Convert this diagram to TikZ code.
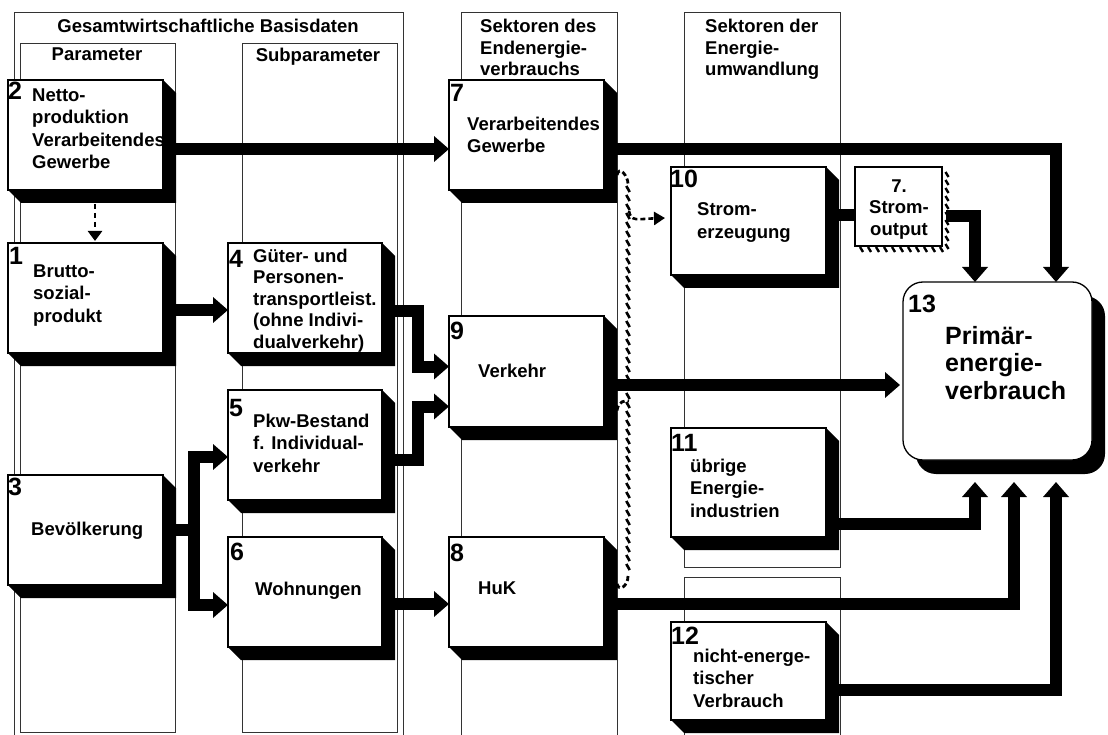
\documentclass[tikz,border=0pt]{standalone}
\usepackage{fontspec}
\setmainfont{Liberation Sans}
\usetikzlibrary{arrows.meta,shadows}
\begin{document}
\begin{tikzpicture}[x=1pt,y=-1pt,
  frame/.style={draw=black!80, line width=0.9pt},
  box/.style={draw, fill=white, line width=1.3pt, anchor=north west, inner sep=0pt, outer sep=0pt},
  txt/.style={anchor=north west, align=left, inner sep=0pt, font=\bfseries\fontsize{18.5}{22.5}\selectfont},
  hdr/.style={anchor=north, inner sep=0pt, font=\bfseries\fontsize{18.5}{21.5}\selectfont},
  num/.style={anchor=north west, inner sep=0pt, font=\bfseries\fontsize{25}{25}\selectfont},
  flow/.style={line width=12pt, line join=miter},
  flowarrow/.style={flow, -{Triangle[width=25pt,length=15pt]}},
  tick/.style={line width=2.6pt},
  hook/.style={line width=2.8pt, dash pattern=on 5pt off 3pt},
]
\newcommand\boxshadow[1]{\fill (#1.north east) -- ++(13,13) |- ([shift={(13,13)}]#1.south west) -- (#1.south west) -- (#1.south east) -- cycle;}
\useasboundingbox (0,0) rectangle (1108,735);
\fill[white] (0,0) rectangle (1108,735);

% column frames
\draw[frame] (14,745) -- (14,12) -- (403,12) -- (403,745);
\draw[frame] (20,43) rectangle (175,732);
\draw[frame] (242,43) rectangle (397,732);
\draw[frame] (461,745) -- (461,12) -- (617,12) -- (617,745);
\draw[frame] (684,12) rectangle (840,567);
\draw[frame] (684,745) -- (684,577) -- (840,577) -- (840,745);

% headers
\node[hdr] (th0) at (208,19) {Gesamtwirtschaftliche Basisdaten};
\node[hdr] (th1) at (97,48) {Parameter};
\node[hdr] (th2) at (318,48) {Subparameter};
\node[txt, font=\bfseries\fontsize{18.5}{21.5}\selectfont] (th3) at (480,19) {Sektoren des\\Endenergie-\\verbrauchs};
\node[txt, font=\bfseries\fontsize{18.5}{21.5}\selectfont] (th4) at (705,19) {Sektoren der\\Energie-\\umwandlung};

% boxes
\node[box, minimum width=155pt, minimum height=110pt] (b2) at (8,80) {};
\node[box, minimum width=155pt, minimum height=110pt] (b1) at (8,243) {};
\node[box, minimum width=155pt, minimum height=110pt] (b3) at (8,475) {};
\node[box, minimum width=154pt, minimum height=110pt] (b4) at (228,243) {};
\node[box, minimum width=154pt, minimum height=110pt] (b5) at (228,390) {};
\node[box, minimum width=154pt, minimum height=110pt] (b6) at (228,537) {};
\node[box, minimum width=155pt, minimum height=110pt] (b7) at (449,80) {};
\node[box, minimum width=155pt, minimum height=111pt] (b9) at (449,316) {};
\node[box, minimum width=155pt, minimum height=110pt] (b8) at (449,537) {};
\node[box, minimum width=155pt, minimum height=108pt] (b10) at (671,167) {};
\node[box, minimum width=155pt, minimum height=109pt] (b11) at (671,428) {};
\node[box, minimum width=155pt, minimum height=98pt] (b12) at (671,622) {};
\node[box, minimum width=87pt, minimum height=79pt] (bso) at (855,167) {};
\node[box, rounded corners=20pt, minimum width=189pt, minimum height=178pt,
      drop shadow={shadow xshift=13pt, shadow yshift=-14pt, opacity=1, fill=black}] (b13) at (903,282) {};
\foreach \b in {b2,b1,b3,b4,b5,b6,b7,b9,b8,b10,b11,b12} {\boxshadow{\b}}

% hatched (Strom) line and hooks
\coordinate (ht) at (628,184);
\coordinate (hb) at (628,576);
\foreach \y in {186,195,...,570} {\draw[tick] (626.3,\y) -- (629.7,\y+6);}
\draw[hook] ([shift={(13,40)}]b7.east) .. controls +(2,-10) and +(0,-8) .. (ht);
\draw[hook] (hb) .. controls +(0,10) and +(2,8) .. ([shift={(13,-8)}]b8.east);
\draw[hook] ([shift={(13,39)}]b9.east) .. controls +(1,-9) and +(-4,-1) .. (629,401);
\draw[line width=2.6pt, dash pattern=on 5pt off 3pt, -{Triangle[width=13pt,length=11pt]}]
  (629,211) .. controls (631,222) and (637,219) .. ([shift={(-6,-3)}]b10.west);
% hatched shadow of Strom-output
\foreach \y in {172,180,...,244} {\draw[tick, line width=2.4pt] (945.5,\y) -- (948.5,\y+5);}
\foreach \x in {860,868,...,945} {\draw[tick, line width=2.4pt] (\x,247) -- (\x+3,252);}

% dashed arrow 2 -> 1
\draw[line width=2.6pt, dash pattern=on 5pt off 4pt, -{Triangle[width=14pt,length=10pt]}]
  ([shift={(87,14)}]b2.south west) -- ([shift={(87,-2)}]b1.north west);

% thick flows
\draw[flowarrow] ([shift={(12,14)}]b2.east) -- ([shift={(0,14)}]b7.west);
\draw[flowarrow] ([shift={(12,12)}]b1.east) -- ([shift={(0,12)}]b4.west);
\draw[flowarrow] ([shift={(12,13)}]b4.east) -| ([shift={(-31,-5)}]b9.west) -- ([shift={(0,-5)}]b9.west);
\draw[flowarrow] ([shift={(12,15)}]b5.east) -| ([shift={(-31,35)}]b9.west) -- ([shift={(0,35)}]b9.west);
\coordinate (j3) at ([shift={(31,0)}]b3.east);
\draw[flow] ([shift={(11,0)}]b3.east) -- (j3);
\draw[flowarrow] (j3) |- ([shift={(0,12)}]b5.west);
\draw[flowarrow] (j3) |- ([shift={(0,13)}]b6.west);
\draw[flowarrow] ([shift={(12,12)}]b6.east) -- ([shift={(0,12)}]b8.west);
\draw[flowarrow] ([shift={(12,14)}]b7.east) -| ([shift={(58.5,0)}]b13.north);
\draw[flowarrow] ([shift={(12,13.5)}]b9.east) -- ([shift={(-3,14)}]b13.west);
\draw[flowarrow] ([shift={(12,12)}]b8.east) -| ([shift={(16.5,22)}]b13.south);
\draw[flowarrow] ([shift={(12,41.5)}]b11.east) -| ([shift={(-22.5,22)}]b13.south);
\draw[flowarrow] ([shift={(12,19)}]b12.east) -| ([shift={(58.5,22)}]b13.south);
\draw[flow] ([shift={(12,-6)}]b10.east) -- ([shift={(0,8.5)}]bso.west);
\draw[flowarrow] ([shift={(4,9.5)}]bso.east) -| ([shift={(-22.5,0)}]b13.north);

% numbers
\node[num] (n2) at (8,82) {2};
\node[num] (n1) at (9,247) {1};
\node[num] (n3) at (8,478) {3};
\node[num] (n4) at (229,250) {4};
\node[num] (n5) at (229,399) {5};
\node[num] (n6) at (230,543) {6};
\node[num] (n7) at (450,84) {7};
\node[num] (n9) at (450,322) {9};
\node[num] (n8) at (450,544) {8};
\node[num] (n10) at (670,170) {10};
\node[num] (n11) at (671,434) {11};
\node[num] (n12) at (671,627) {12};
\node[num] (n13) at (908,295) {13};

% texts
\node[txt] (t2) at (32,88.5) {Netto-\\produktion\\Verarbeitendes\\Gewerbe};
\node[txt] (t1) at (33,264.5) {Brutto-\\sozial-\\produkt};
\node[txt] (t3) at (31,521.5) {Bevölkerung};
\node[txt, font=\bfseries\fontsize{18.5}{21.5}\selectfont] (t4) at (253,248.5) {Güter- und\\Personen-\\transportleist.\\(ohne Indivi-\\dualverkehr)};
\node[txt] (t5) at (253,413.5) {Pkw-Bestand\\f. Individual-\\verkehr};
\node[txt] (t6) at (255,581.5) {Wohnungen};
\node[txt] (t7) at (467,116.5) {Verarbeitendes\\Gewerbe};
\node[txt] (t9) at (478,363.5) {Verkehr};
\node[txt] (t8) at (478,581.5) {HuK};
\node[txt] (t10) at (697,202.5) {Strom-\\erzeugung};
\node[anchor=north, align=center, inner sep=0pt, font=\bfseries\fontsize{18.5}{21.5}\selectfont] (tso) at (899,179.5) {7.\\Strom-\\output};
\node[txt] (t11) at (690,458.5) {übrige\\Energie-\\industrien};
\node[txt] (t12) at (693,648.5) {nicht-energe-\\tischer\\Verbrauch};
\node[anchor=north west, align=left, inner sep=0pt, font=\bfseries\fontsize{25}{27.5}\selectfont] (t13) at (945,326) {Primär-\\energie-\\verbrauch};
\end{tikzpicture}
\end{document}
